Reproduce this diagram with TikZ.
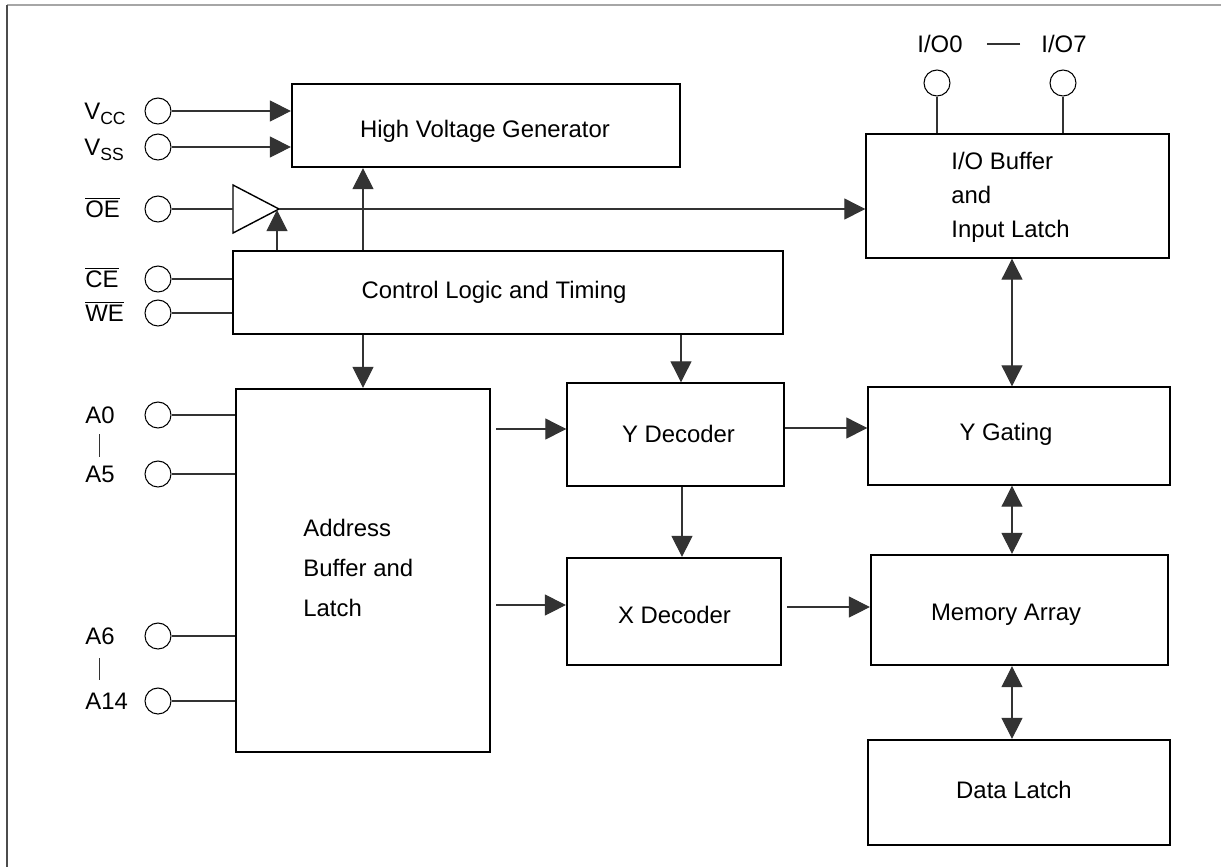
\documentclass[tikz,border=0pt]{standalone}
\usepackage{fontspec}
\setmainfont{Liberation Sans}
\usetikzlibrary{arrows.meta}

\newcommand{\ovl}[1]{$\overline{\hbox{#1}}$}

\begin{document}
\begin{tikzpicture}[x=0.02cm, y=-0.02cm,
  font=\fontsize{13.6}{16}\selectfont,
  >={Triangle[length=0.42cm,width=0.42cm]},
  blk/.style={draw, line width=0.8pt, inner sep=0pt},
  blkthick/.style={blk, line width=1.3pt},
  pad/.style={draw, circle, line width=0.6pt, minimum size=0.52cm, inner sep=0pt},
  sig/.style={line width=0.6pt, draw=black!80, fill=black},
  lbl/.style={anchor=base west, inner sep=0pt},
  txt/.style={anchor=base, inner sep=0pt}]

\useasboundingbox (0,0) rectangle (1221,867);

% frame
\draw[black!35, line width=1.1pt] (7,5) -- (1221,5);
\draw[black!70, line width=1.1pt] (7,5) -- (7,867);

% blocks
\node[blkthick, minimum width=7.76cm, minimum height=1.66cm] (hvg) at (486,125.5) {};
\node[blk, minimum width=11cm, minimum height=1.66cm] (ctl) at (508,292.5) {};
\node[blk, minimum width=6.06cm, minimum height=2.48cm] (iob) at (1017.5,196) {};
\node[blkthick, minimum width=5.08cm, minimum height=7.26cm] (addr) at (363,570.5) {};
\node[blk, minimum width=4.34cm, minimum height=2.06cm] (ydec) at (675.5,434.5) {};
\node[blkthick, minimum width=4.28cm, minimum height=2.14cm] (xdec) at (674,611.5) {};
\node[blk, minimum width=6.04cm, minimum height=1.96cm] (ygate) at (1019,436) {};
\node[blkthick, minimum width=5.94cm, minimum height=2.2cm] (mem) at (1019.5,610) {};
\node[blkthick, minimum width=6.04cm, minimum height=2.1cm] (dlat) at (1019,792.5) {};

% block texts
\node[txt] (thvg) at (485,137) {High Voltage Generator};
\node[txt] (tctl) at (494,298) {Control Logic and Timing};
\node[anchor=west, align=left, inner sep=0pt, font=\fontsize{13.6}{19.3}\selectfont] (tiob) at (951,197) {I/O Buffer\\and\\Input Latch};
\node[anchor=west, align=left, inner sep=0pt, font=\fontsize{13.6}{22.7}\selectfont] (taddr) at (303,568) {Address\\Buffer and\\Latch};
\node[txt] (tydec) at (678.5,442) {Y Decoder};
\node[txt] (txdec) at (674.5,623) {X Decoder};
\node[txt] (tygate) at (1006,440.5) {Y Gating};
\node[txt] (tmem) at (1006,620) {Memory Array};
\node[txt] (tdlat) at (1014,798.5) {Data Latch};

% output buffer
\coordinate (bufin) at (233,209);
\coordinate (bufout) at (279,209);
\coordinate (bufctl) at (277,210);
\draw[line width=0.8pt] (233,185) -- (bufout) -- (233,233) -- cycle;

% pads
\node[pad] (vcc) at (158,111) {};
\node[pad] (vss) at (158,147) {};
\node[pad] (oe) at (158,209) {};
\node[pad] (ce) at (158,279) {};
\node[pad] (we) at (158,313) {};
\node[pad] (a0) at (158,415) {};
\node[pad] (a5) at (158,474) {};
\node[pad] (a6) at (158,636) {};
\node[pad] (a14) at (158,701) {};
\node[pad] (io0) at (937,83) {};
\node[pad] (io7) at (1063,83) {};

% pad labels
\node[lbl] (lvcc) at (84,119.5) {V\raisebox{-2.8pt}{\fontsize{10}{12}\selectfont CC}};
\node[lbl] (lvss) at (84,155.5) {V\raisebox{-2.8pt}{\fontsize{10}{12}\selectfont SS}};
\node[lbl] (loe) at (85,217.5) {\ovl{OE}};
\node[lbl] (lce) at (85,287.5) {\ovl{CE}};
\node[lbl] (lwe) at (85,321.5) {\ovl{WE}};
\node[lbl] (la0) at (85,423.5) {A0};
\node[lbl] (la5) at (85,482.5) {A5};
\node[lbl] (la6) at (85,644.5) {A6};
\node[lbl] (la14) at (85,709.5) {A14};
\node (lio0) at (940,44) {I/O0};
\node (lio7) at (1064,44) {I/O7};

\draw[sig, shorten <=0.2cm, shorten >=0.18cm] (la0.south) -- (la5.north);
\draw[sig, shorten <=0.26cm, shorten >=0.26cm] (la6.south) -- (la6.south |- la14.north);
\draw[sig, shorten <=0.36cm, shorten >=0.3cm] (lio0.east) -- (lio7.west);

% helper columns and rows
\coordinate (c277) at (277,0);
\coordinate (c363) at (363,0);
\coordinate (c681) at (681,0);
\coordinate (c682) at (682,0);
\coordinate (c1012) at (1012,0);
\coordinate (r428) at (0,428);
\coordinate (r429) at (0,429);
\coordinate (r605) at (0,605);
\coordinate (r607) at (0,607);

% pad wires
\draw[sig, ->] (vcc.east) -- (vcc.east -| hvg.west);
\draw[sig, ->] (vss.east) -- (vss.east -| hvg.west);
\draw[sig] (oe.east) -- (bufin);
\draw[sig] (ce.east) -- (ce.east -| ctl.west);
\draw[sig] (we.east) -- (we.east -| ctl.west);
\draw[sig] (a0.east) -- (a0.east -| addr.west);
\draw[sig] (a5.east) -- (a5.east -| addr.west);
\draw[sig] (a6.east) -- (a6.east -| addr.west);
\draw[sig] (a14.east) -- (a14.east -| addr.west);
\draw[sig] (io0.south) -- (io0.south |- iob.north);
\draw[sig] (io7.south) -- (io7.south |- iob.north);

% control paths
\draw[sig, ->] (bufout) -- (bufout -| iob.west);
\draw[sig, ->] (ctl.north -| c277) -- (bufctl);
\draw[sig, ->] (ctl.north -| c363) -- (hvg.south -| c363);
\draw[sig, ->] (ctl.south -| c363) -- (addr.north -| c363);
\draw[sig, ->] (ctl.south -| c681) -- (ydec.north -| c681);

% address paths
\draw[sig, ->] ([xshift=3]addr.east |- r429) -- (ydec.west |- r429);
\draw[sig, ->] ([xshift=3]addr.east |- r605) -- (xdec.west |- r605);
\draw[sig, ->] (ydec.south -| c682) -- (xdec.north -| c682);
\draw[sig, ->] (ydec.east |- r428) -- (ygate.west |- r428);
\draw[sig, ->] ([xshift=3]xdec.east |- r607) -- (mem.west |- r607);

% data paths
\draw[sig, <->] (iob.south -| c1012) -- (ygate.north -| c1012);
\draw[sig, <->] (ygate.south -| c1012) -- (mem.north -| c1012);
\draw[sig, <->] (mem.south -| c1012) -- (dlat.north -| c1012);

\end{tikzpicture}
\end{document}
